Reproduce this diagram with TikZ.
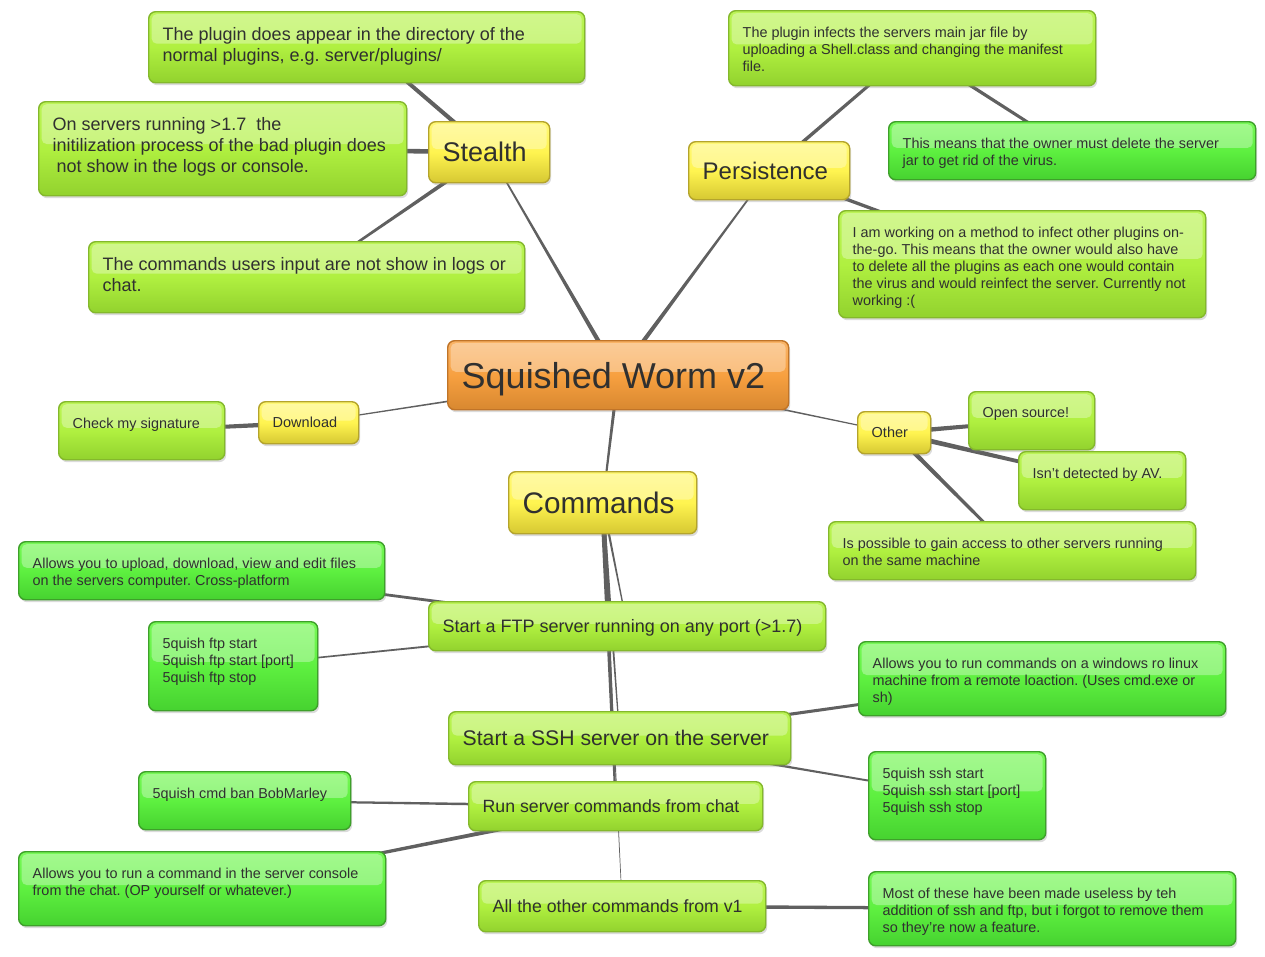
\documentclass[tikz,border=0pt]{standalone}
\usepackage{fontspec}
\setmainfont{Liberation Sans}
\usetikzlibrary{calc,shadows}
\frenchspacing
\definecolor{txt}{HTML}{303030}
\definecolor{conn}{HTML}{606060}
\definecolor{limeT}{HTML}{BCF458}
\definecolor{limeM}{HTML}{B0F040}
\definecolor{limeBot}{HTML}{92D22E}
\definecolor{limeB}{HTML}{84B82C}
\definecolor{greenT}{HTML}{78F858}
\definecolor{greenM}{HTML}{5EF040}
\definecolor{greenBot}{HTML}{46D230}
\definecolor{greenB}{HTML}{3EA02A}
\definecolor{yelT}{HTML}{FFF878}
\definecolor{yelM}{HTML}{FFF450}
\definecolor{yelBot}{HTML}{D6C832}
\definecolor{yelB}{HTML}{B4A42C}
\definecolor{orT}{HTML}{F9B468}
\definecolor{orM}{HTML}{F7A040}
\definecolor{orBot}{HTML}{D88830}
\definecolor{orB}{HTML}{C07428}
\pgfdeclarelayer{background}
\pgfsetlayers{background,main}
\tikzset{
  gloss/.style={path picture={\fill[white,opacity=0.32,rounded corners=5pt]
    ([shift={(3pt,-2.5pt)}]path picture bounding box.north west) rectangle
    ($(path picture bounding box.north east)!0.45!(path picture bounding box.south east)+(-3pt,0pt)$);}},
  boxbase/.style={rounded corners=7pt, line width=1.4pt, text=txt,
    drop shadow={shadow xshift=1.5pt, shadow yshift=-2.5pt, opacity=0.28}, gloss},
  lime/.style={boxbase, draw=limeB, top color=limeT, bottom color=limeBot, middle color=limeM},
  green/.style={boxbase, draw=greenB, top color=greenT, bottom color=greenBot, middle color=greenM},
  yellow/.style={boxbase, draw=yelB, top color=yelT, bottom color=yelBot, middle color=yelM},
  orange/.style={boxbase, draw=orB, top color=orT, bottom color=orBot, middle color=orM},
  froot/.style={font=\fontsize{36}{40}\selectfont},
  fst/.style={font=\fontsize{27}{32}\selectfont},
  fpe/.style={font=\fontsize{24}{28}\selectfont},
  fcm/.style={font=\fontsize{29.7}{34}\selectfont},
  fssh/.style={font=\fontsize{21.2}{24}\selectfont},
  fb/.style={font=\fontsize{18}{21}\selectfont},
  fbr/.style={font=\fontsize{17.7}{21}\selectfont},
  fm/.style={font=\fontsize{14.4}{17}\selectfont},
  fs/.style={font=\fontsize{14.5}{17}\selectfont},
  link/.style={fill=conn},
}
% top-aligned text box
\newcommand\tbox[7]{%
  \pgfmathsetlengthmacro\bxw{#5-#3-14}%
  \pgfmathsetlengthmacro\bxh{#6-#4-32}%
  \node[#2, anchor=north west, inner xsep=0pt, inner ysep=16pt] (#1) at (#3,#4)
    {\hspace*{14pt}\parbox[t][\bxh][t]{\bxw}{\raggedright #7}};}
% vertically centred one-line box
\newcommand\cbox[7]{%
  \pgfmathsetlengthmacro\bxw{#5-#3-28}%
  \pgfmathsetlengthmacro\bxh{#6-#4}%
  \node[#2, anchor=north west, inner xsep=14pt, inner ysep=0pt, text depth=0pt, minimum height=\bxh] (#1) at (#3,#4)
    {\makebox[\bxw][l]{#7}};}
% tapered connector between node centres
\newcommand\taper[4]{%
  \fill[link] ($(#1.center)!#3pt!90:(#2.center)$) -- ($(#1.center)!#3pt!-90:(#2.center)$)
    -- ($(#2.center)!#4pt!90:(#1.center)$) -- ($(#2.center)!#4pt!-90:(#1.center)$) -- cycle;}
\begin{document}
\begin{tikzpicture}[x=1pt,y=-1pt]
\useasboundingbox (0,0) rectangle (1265,956);
% central and main topics
\cbox{root}{orange,froot}{447}{340}{788}{409}{Squished Worm v2}
\cbox{stealth}{yellow,fst}{428}{121}{549}{182}{Stealth}
\cbox{pers}{yellow,fpe}{688}{141}{849}{199}{Persistence}
\cbox{cmds}{yellow,fcm}{508}{471}{696}{533}{Commands}
\cbox{dl}{yellow,fs}{258}{401}{358}{443}{Download}
\cbox{other}{yellow,fs}{857}{411}{930}{453}{Other}
% stealth
\tbox{s1}{lime,fb}{148}{11}{584}{82}{The plugin does appear in the directory of the\\normal plugins, e.g. server/plugins/}
\tbox{s2}{lime,fb}{38}{101}{406}{195}{On servers running >1.7~ the\\initilization process of the bad plugin does\\\hspace*{4pt}not show in the logs or console.}
\tbox{s3}{lime,fb}{88}{241}{524}{312}{The commands users input are not show in logs or\\chat.}
% persistence
\tbox{p1}{lime,fm}{728}{10}{1095}{85}{The plugin infects the servers main jar file by\\uploading a Shell.class and changing the manifest\\file.}
\tbox{p2}{green,fm}{888}{121}{1255}{179}{This means that the owner must delete the server\\jar to get rid of the virus.}
\tbox{p3}{lime,fm}{838}{210}{1205}{317}{I am working on a method to infect other plugins on-\\the-go. This means that the owner would also have\\to delete all the plugins as each one would contain\\the virus and would reinfect the server. Currently not\\working :(}
% download
\tbox{chk}{lime,fm}{58}{401}{224}{459}{Check my signature}
% other
\tbox{open}{lime,fm}{968}{391}{1094}{449}{Open source!}
\tbox{av}{lime,fm}{1018}{451}{1185}{509}{Isn't detected by AV.}
\tbox{poss}{lime,fm}{828}{521}{1195}{579}{Is possible to gain access to other servers running\\on the same machine}
% commands
\cbox{ftp}{lime,fb}{428}{601}{825}{650}{Start a FTP server running on any port (>1.7)}
\tbox{f1}{green,fm}{18}{541}{384}{599}{Allows you to upload, download, view and edit files\\on the servers computer. Cross-platform}
\tbox{f2}{green,fm}{148}{621}{317}{710}{5quish ftp start\\5quish ftp start [port]\\5quish ftp stop}
\cbox{ssh}{lime,fssh}{448}{711}{790}{764}{Start a SSH server on the server}
\tbox{h1}{green,fm}{858}{641}{1225}{715}{Allows you to run commands on a windows ro linux\\machine from a remote loaction. (Uses cmd.exe or\\sh)}
\tbox{h2}{green,fm}{868}{751}{1045}{839}{5quish ssh start\\5quish ssh start [port]\\5quish ssh stop}
\cbox{run}{lime,fbr}{468}{781}{762}{830}{Run server commands from chat}
\tbox{c1}{green,fm}{138}{771}{350}{829}{5quish cmd ban BobMarley}
\tbox{c2}{green,fm}{18}{851}{385}{925}{Allows you to run a command in the server console\\from the chat. (OP yourself or whatever.)}
\cbox{all}{lime,fbr}{478}{880}{765}{931}{All the other commands from v1}
\tbox{a1}{green,fm}{868}{871}{1235}{945}{Most of these have been made useless by teh\\addition of ssh and ftp, but i forgot to remove them\\so they're now a feature.}
% connectors
\begin{pgfonlayer}{background}
\fill[white] (0,0) rectangle (1265,956);
\taper{root}{stealth}{2.4}{0.6}
\taper{root}{pers}{2.4}{0.6}
\taper{root}{dl}{1.2}{0.5}
\taper{root}{other}{1.2}{0.5}
\taper{root}{cmds}{1.8}{0.8}
\taper{stealth}{s1}{2.2}{1.8}
\taper{stealth}{s2}{2.4}{2.0}
\taper{stealth}{s3}{2.2}{0.9}
\taper{pers}{p1}{1.8}{1.4}
\taper{p1}{p2}{1.8}{1.4}
\taper{pers}{p3}{1.8}{1.4}
\taper{dl}{chk}{2.4}{1.6}
\taper{other}{open}{2.4}{1.6}
\taper{other}{av}{2.6}{1.4}
\taper{other}{poss}{2.4}{1.2}
\taper{cmds}{ftp}{1.3}{0.5}
\taper{cmds}{ssh}{1.6}{0.5}
\taper{cmds}{run}{2.6}{1.0}
\taper{cmds}{all}{0.8}{0.3}
\taper{ftp}{f1}{1.6}{1.2}
\taper{ftp}{f2}{1.2}{0.7}
\taper{ssh}{h1}{1.8}{1.2}
\taper{ssh}{h2}{1.4}{0.8}
\taper{run}{c1}{1.4}{1.0}
\taper{run}{c2}{2.4}{1.0}
\taper{all}{a1}{1.8}{1.5}
\end{pgfonlayer}
\end{tikzpicture}
\end{document}
